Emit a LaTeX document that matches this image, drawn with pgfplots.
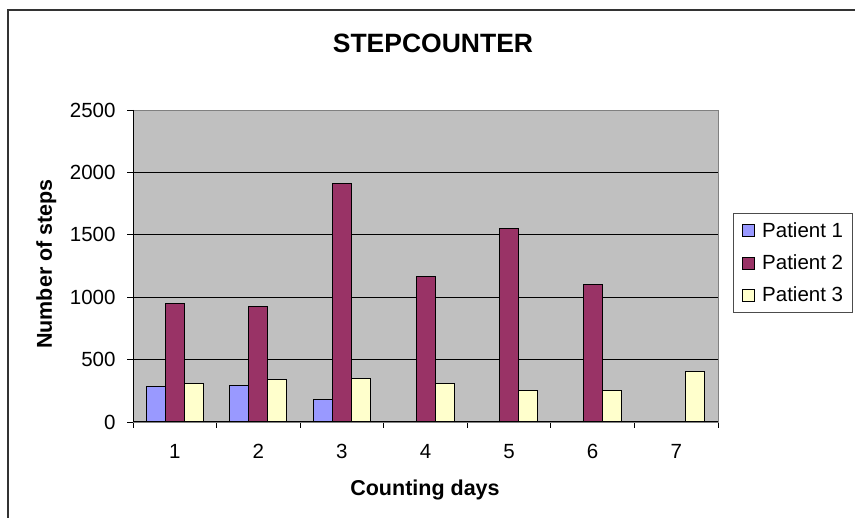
\documentclass[border=0pt]{standalone}
\usepackage{fontspec}
\setmainfont{Liberation Sans}
\usepackage{pgfplots}
\pgfplotsset{compat=1.18}
\definecolor{pone}{HTML}{9999FF}
\definecolor{ptwo}{HTML}{993366}
\definecolor{pthree}{HTML}{FFFFCC}
\definecolor{plotbg}{HTML}{C0C0C0}
\begin{document}
\begin{tikzpicture}
\useasboundingbox (0pt,0pt) rectangle (855pt,518pt);
\draw[line width=2pt, black!80] (8pt,-5pt) -- (8pt,508pt) -- (860pt,508pt);
\begin{axis}[
  at={(133pt,96pt)}, anchor=south west,
  scale only axis, width=585pt, height=312pt,
  ybar=0pt, bar width=19pt,
  xmin=0.5, xmax=7.5, ymin=0, ymax=2500,
  xtick={1,...,7}, major x tick style={draw=none},
  minor xtick={0.5,1.5,...,7.5},
  minor tick length=6pt,
  ytick={0,500,...,2500}, major tick length=6pt,
  tick align=outside, tick pos=left,
  tick style={black, line width=0.8pt},
  ymajorgrids, grid style={black, line width=0.8pt},
  axis background/.style={fill=plotbg},
  axis line style={draw=gray, line width=0.8pt},
  /pgf/number format/assume math mode=true,
  /pgf/number format/1000 sep={},
  ticklabel style={font=\fontsize{20.5}{24}\selectfont},
  yticklabel style={xshift=-8pt},
  xticklabel style={yshift=-13pt},
  title={\textbf{STEPCOUNTER}},
  title style={font=\fontsize{26.5}{32}\selectfont, at={(axis description cs:0.5128,1.1939)}, anchor=center},
  xlabel={\textbf{Counting days}},
  xlabel style={font=\fontsize{21.5}{26}\selectfont, at={(axis description cs:0.4991,-0.2372)}, anchor=base},
  ylabel={\textbf{Number of steps}},
  ylabel style={font=\fontsize{21.5}{26}\selectfont, at={(axis description cs:-0.1385,0.5064)}, anchor=base},
  legend style={at={(axis description cs:1.0256,0.6699)}, anchor=north west,
    draw=black!70, line width=0.8pt, font=\fontsize{20.5}{24}\selectfont,
    inner xsep=9pt, inner ysep=9pt, row sep=16pt, column sep=7pt,
    nodes={inner sep=0pt}, cells={anchor=west}},
  legend image code/.code={\draw[#1, line width=0.8pt] (0pt,-6pt) rectangle (12pt,6pt);},
]
\addplot[fill=pone, draw=black, line width=1pt] coordinates {(1,284) (2,294) (3,184)};
\addplot[fill=ptwo, draw=black, line width=1pt] coordinates {(1,948) (2,926) (3,1912) (4,1166) (5,1550) (6,1102)};
\addplot[fill=pthree, draw=black, line width=1pt] coordinates {(1,305) (2,338) (3,348) (4,305) (5,251) (6,251) (7,402)};
\legend{Patient 1, Patient 2, Patient 3}
\draw[black, line width=1pt] (rel axis cs:0,1) -- (rel axis cs:0,0) -- (rel axis cs:1,0);
\end{axis}
\end{tikzpicture}
\end{document}
